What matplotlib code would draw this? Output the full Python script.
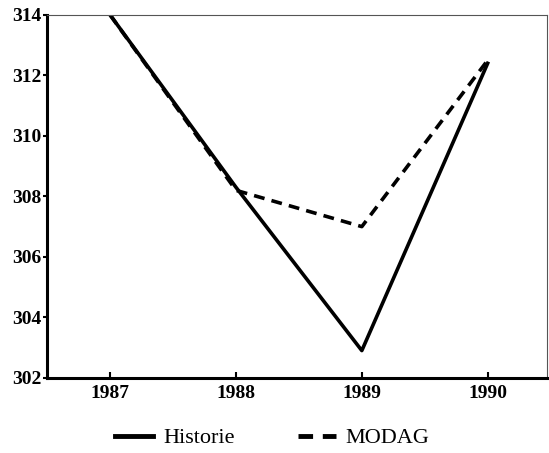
import matplotlib
matplotlib.use("Agg")
from matplotlib import pyplot as plt

years = [1987, 1988, 1989, 1990]
historie = [314.0, 308.3, 302.9, 312.4]
modag = [314.0, 308.2, 307.0, 312.5]
yticks = [302, 304, 306, 308, 310, 312, 314]

plt.rcParams['font.family'] = ['Liberation Serif', 'DejaVu Serif']

fig = plt.figure(figsize=(5.49, 4.53), dpi=100)
ax = fig.add_axes([0.086, 0.166, 0.91, 0.801])

ax.plot(years, historie, color="black", lw=2.6, label="Historie")
ax.plot(years, modag, color="black", lw=2.6, ls=(0, (3, 2)), label="MODAG")

ax.set_xlim(1986.5, 1990.47)
ax.set_ylim(302, 314)
ax.set_xticks(years)
ax.set_yticks(yticks)
ax.tick_params(axis="x", direction="in", length=4, width=1.5, labelsize=14, pad=5)
ax.tick_params(axis="y", direction="out", length=3, width=1.5, labelsize=14, pad=1)
for lab in ax.get_xticklabels() + ax.get_yticklabels():
    lab.set_fontweight("bold")

ax.spines["left"].set_linewidth(2.2)
ax.spines["bottom"].set_linewidth(2.2)
ax.spines["top"].set_linewidth(0.8)
ax.spines["right"].set_linewidth(0.8)
ax.spines["top"].set_color("#555555")
ax.spines["right"].set_color("#555555")

leg = fig.legend(loc="lower center", bbox_to_anchor=(0.496, -0.034), ncol=2, frameon=False,
                 fontsize=16, handlelength=1.7, columnspacing=2.85, handletextpad=0.45)
for line in leg.get_lines():
    line.set_linewidth(3.5)

plt.savefig("out.png", dpi=100)
